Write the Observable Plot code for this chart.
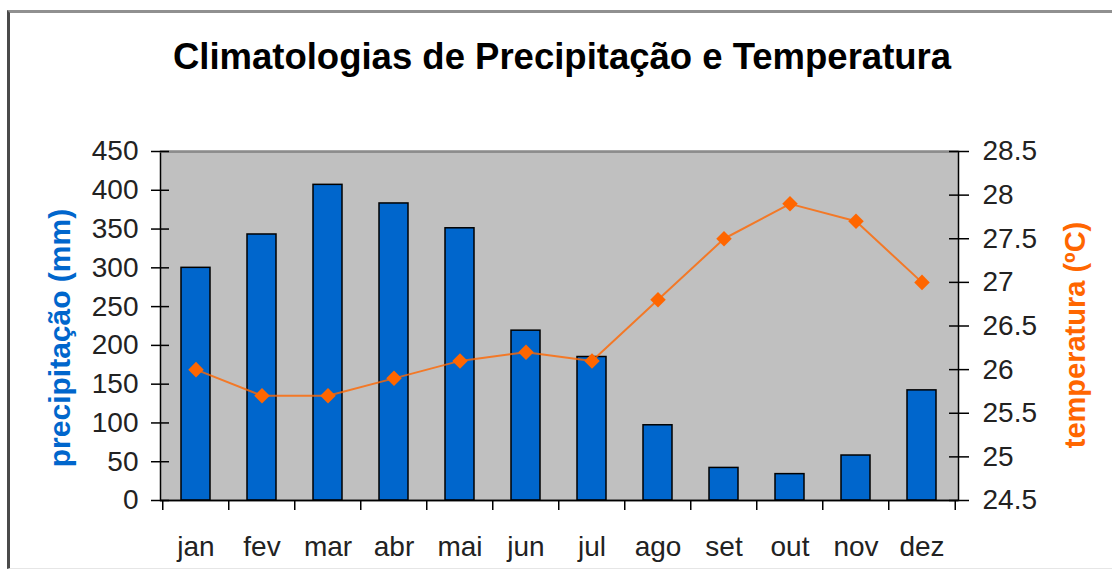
<!DOCTYPE html>
<html><head><meta charset="utf-8">
<script src="https://cdn.jsdelivr.net/npm/d3@7"></script>
<script src="https://cdn.jsdelivr.net/npm/@observablehq/plot@0.6"></script>
<style>
body{margin:0;background:#fff;}
#wrap{position:relative;width:1112px;height:570px;overflow:hidden;font-family:"Liberation Sans",Arial,sans-serif;}
#border{position:absolute;left:7px;top:10px;width:1200px;height:555px;border-left:3px solid #4a4a4a;border-top:3px solid #909090;border-bottom:1px solid #e6e6e6;}
#chart{position:absolute;left:0;top:0;}
#title{position:absolute;left:0;width:1124px;top:36px;text-align:center;font-weight:bold;font-size:36.5px;color:#000;white-space:nowrap;}
.ytitle{position:absolute;font-weight:bold;white-space:nowrap;transform:translate(-50%,-50%) rotate(-90deg);}
</style></head>
<body>
<div id="wrap">
  <div id="border"></div>
  <div id="chart"></div>
  <div id="title">Climatologias de Precipitação e Temperatura</div>
  <div class="ytitle" style="left:60px;top:338px;color:#0066cc;font-size:30px;">precipitação (mm)</div>
  <div class="ytitle" style="left:1075px;top:335px;color:#ff6600;font-size:29px;">temperatura (ºC)</div>
</div>
<script>
const months = ["jan","fev","mar","abr","mai","jun","jul","ago","set","out","nov","dez"];
const precipitation = [300, 343, 407, 383, 351, 219, 185, 97, 42, 34, 58, 142];
const temperature = [26.0, 25.7, 25.7, 25.9, 26.1, 26.2, 26.1, 26.8, 27.5, 27.9, 27.7, 27.0];
const precipDomain = [0, 450];
const tempDomain = [24.5, 28.5];
const precipTicks = [0, 50, 100, 150, 200, 250, 300, 350, 400, 450];
const tempTicks = [24.5, 25, 25.5, 26, 26.5, 27, 27.5, 28, 28.5];

const W = 1112, H = 570, mL = 160, mR = 154, mT = 151, mB = 70;
const step = (W - mL - mR) / months.length;
const toMM = t => precipDomain[0] + (t - tempDomain[0]) / (tempDomain[1] - tempDomain[0]) * (precipDomain[1] - precipDomain[0]);
const fromMM = v => tempDomain[0] + (v - precipDomain[0]) / (precipDomain[1] - precipDomain[0]) * (tempDomain[1] - tempDomain[0]);
const data = months.map((m, i) => ({month: m, precip: precipitation[i], temp: temperature[i]}));
const tickFont = 28;

const chart = Plot.plot({
  width: W, height: H,
  marginLeft: mL, marginRight: mR, marginTop: mT, marginBottom: mB,
  style: {background: "transparent", fontFamily: '"Liberation Sans", Arial, sans-serif', color: "#000", overflow: "visible"},
  x: {domain: months, paddingInner: 0.56, paddingOuter: 0.28, label: null},
  y: {domain: precipDomain, label: null},
  marks: [
    Plot.frame({fill: "#c0c0c0", stroke: "#000", strokeWidth: 1.5}),
    Plot.ruleY([precipDomain[1]], {stroke: "#8c8c8c", strokeWidth: 2}),
    Plot.barY(data, {x: "month", y: "precip", fill: "#0066cc", stroke: "#000", strokeWidth: 1.5}),
    Plot.line(data, {x: "month", y: d => toMM(d.temp), stroke: "#ff6600", strokeWidth: 2, strokeOpacity: 0.8}),
    Plot.dot(data, {x: "month", y: d => toMM(d.temp), symbol: "diamond2", r: 7, fill: "#ff6600", stroke: null}),
    Plot.ruleY([precipDomain[0]], {stroke: "#000", strokeWidth: 1.5}),
    // left axis
    Plot.axisY({anchor: "left", ticks: precipTicks, tickSize: 0, tickPadding: 22, fontSize: tickFont, fill: "#222", label: null}),
    Plot.axisY({anchor: "left", ticks: precipTicks, tickSize: 18, dx: 9, tickFormat: () => "", strokeWidth: 1.5, label: null}),
    // right axis
    Plot.axisY({anchor: "right", ticks: tempTicks.map(toMM), tickFormat: v => String(Math.round(fromMM(v) * 10) / 10), tickSize: 0, tickPadding: 24, fontSize: tickFont, fill: "#222", label: null}),
    Plot.axisY({anchor: "right", ticks: tempTicks.map(toMM), tickSize: 20, dx: -10, tickFormat: () => "", strokeWidth: 1.5, label: null}),
    // x axis
    Plot.axisX({anchor: "bottom", ticks: months, tickSize: 0, tickPadding: 36, fontSize: tickFont, fill: "#222", label: null}),
    Plot.axisX({anchor: "bottom", ticks: months, tickSize: 10, dx: -step / 2, tickFormat: () => "", strokeWidth: 1.5, label: null}),
    Plot.axisX({anchor: "bottom", ticks: [months[months.length - 1]], tickSize: 10, dx: step / 2, tickFormat: () => "", strokeWidth: 1.5, label: null})
  ]
});
document.getElementById("chart").appendChild(chart);
</script>
</body></html>
